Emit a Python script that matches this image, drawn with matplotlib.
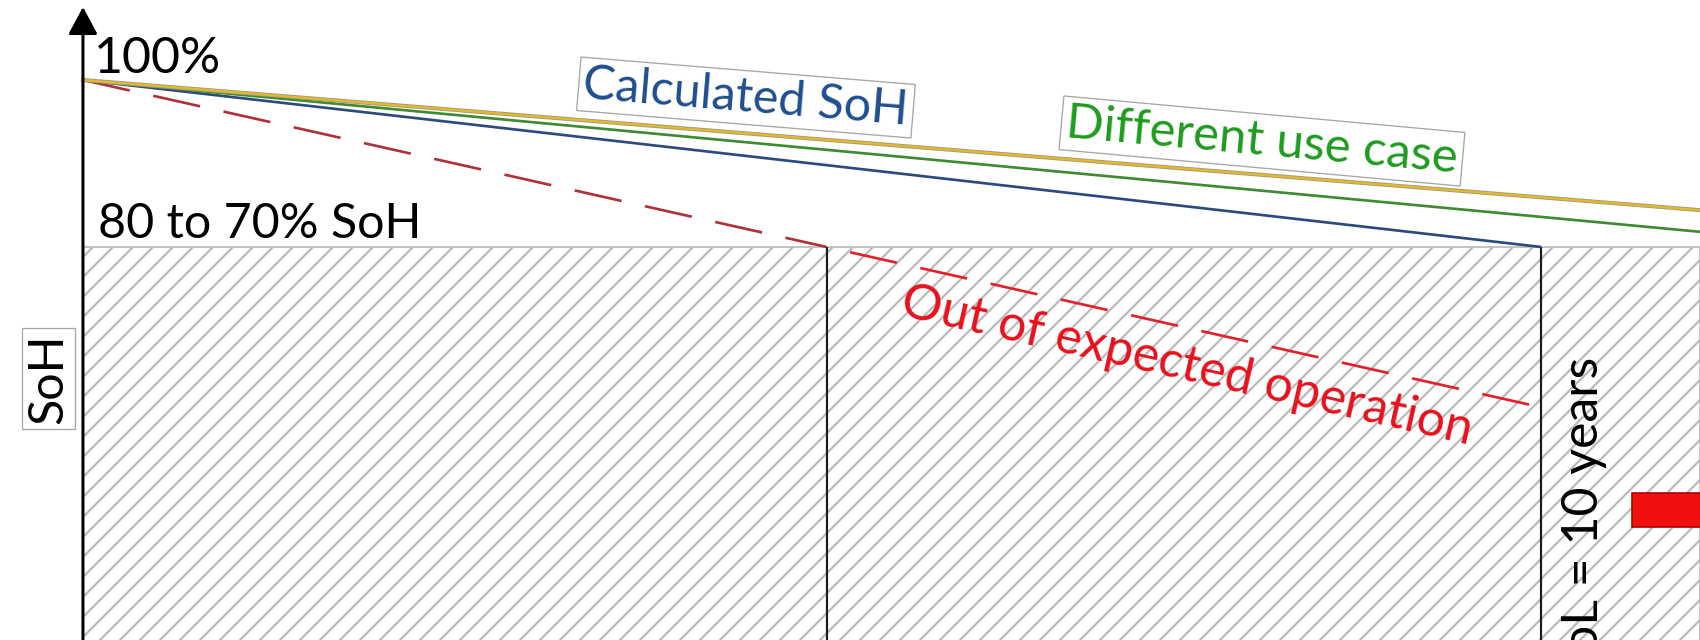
import matplotlib
matplotlib.use("Agg")
import matplotlib.pyplot as plt
import matplotlib.patheffects as pe
from matplotlib.patches import Rectangle

plt.rcParams['font.family'] = ['Lato', 'DejaVu Sans']
plt.rcParams['hatch.color'] = '#b9b9b9'
plt.rcParams['hatch.linewidth'] = 1.3

# --- SoH trajectories (time in years, SoH in %) ---
years_calc = [0, 10]
soh_calc = [100, 80]

years_use = [0, 11.1]
soh_use_green = [100, 81.8]
soh_use_yellow = [100, 84.4]

years_out = [0, 5.1, 9.95]
soh_out = [100, 80, 61.0]

soh_start = 100
soh_threshold = 80
eol_years = 10

# --- figure / axes ---
DPI = 120
fig = plt.figure(figsize=(1700 / DPI, 640 / DPI), dpi=DPI)
ax = fig.add_axes([0, 0, 1, 1])
X_LO, X_HI = -0.569, 11.09
Y_LO, Y_HI = 32.93, 109.58
ax.set_xlim(X_LO, X_HI)
ax.set_ylim(Y_LO, Y_HI)
ax.axis('off')

FS = 29

# hatched zone below the end-of-life threshold
ax.fill_between([0, X_HI], Y_LO - 5, soh_threshold, facecolor='white',
                edgecolor='#b9b9b9', hatch='//', lw=1.0, zorder=1)

# vertical markers where trajectories reach the threshold
ax.vlines([years_out[1], eol_years], Y_LO - 5, soh_threshold,
          color='#1a1a1a', lw=1.3, zorder=3)

# out-of-expected-operation trajectory (dashed)
ax.plot(years_out[:2], soh_out[:2], color='#B0303A', lw=1.6,
        linestyle=(0, (18, 9)), zorder=4)
ax.plot(years_out[1:], soh_out[1:], color='#E3202A', lw=1.6,
        linestyle=(18, (18, 9)), zorder=4)

# calculated and alternative use-case trajectories
ax.plot(years_calc, soh_calc, color='#2B4A7E', lw=1.6, zorder=5,
        solid_capstyle='butt')
ax.plot(years_use, soh_use_green, color='#3F8A33', lw=1.6, zorder=5)
ax.plot(years_use, soh_use_yellow, color='#E3BA2C', lw=1.3, zorder=6,
        path_effects=[pe.Stroke(linewidth=2.4, foreground='#a59a78'),
                      pe.Normal()])

# y axis with arrow head
ax.annotate('', xy=(0, 108.74), xytext=(0, Y_LO - 1),
            arrowprops=dict(arrowstyle='-|>,head_length=14,head_width=7.5',
                            color='black', lw=1.8, mutation_scale=1,
                            shrinkA=0, shrinkB=0), zorder=8)

# labels
ax.text(0.075, 100.84, '100%', fontsize=FS + 1, ha='left', va='baseline',
        color='black', zorder=9)
ax.text(0.103, 81.08, '80 to 70% SoH', fontsize=FS, ha='left',
        va='baseline', color='black', zorder=9)

box = dict(boxstyle='square,pad=0.1', fc='white', ec='#a8a8a8', lw=0.8)

ax.text(-0.236, 64.25, 'SoH', fontsize=FS, rotation=90, ha='center',
        va='center', rotation_mode='anchor', bbox=box, zorder=9)

ax.text(4.547, 97.90, 'Calculated SoH', fontsize=FS, color='#1F4E8F',
        rotation=-4.7, ha='center', va='center', rotation_mode='anchor',
        bbox=box, zorder=9)

ax.text(8.086, 92.69, 'Different use case', fontsize=FS + 0.5,
        color='#1E9B1E', rotation=-5.2, ha='center', va='center',
        rotation_mode='anchor', bbox=box, zorder=9)

ax.text(7.551, 64.07, 'Out of expected operation', fontsize=FS + 1,
        color='#E8101C', rotation=-12.8, ha='center', va='baseline',
        rotation_mode='anchor', zorder=9)

ax.text(10.39, 66.9, 'EoL = 10 years', fontsize=FS + 1, color='black',
        rotation=90, ha='right', va='baseline', rotation_mode='anchor',
        zorder=9)

# red marker at the right edge
ax.add_patch(Rectangle((10.625, 46.47), 1.0, 4.07, facecolor='#F01010',
                       edgecolor='#B00000', lw=1.0, zorder=9))

fig.savefig('out.png', dpi=DPI, facecolor='white')
